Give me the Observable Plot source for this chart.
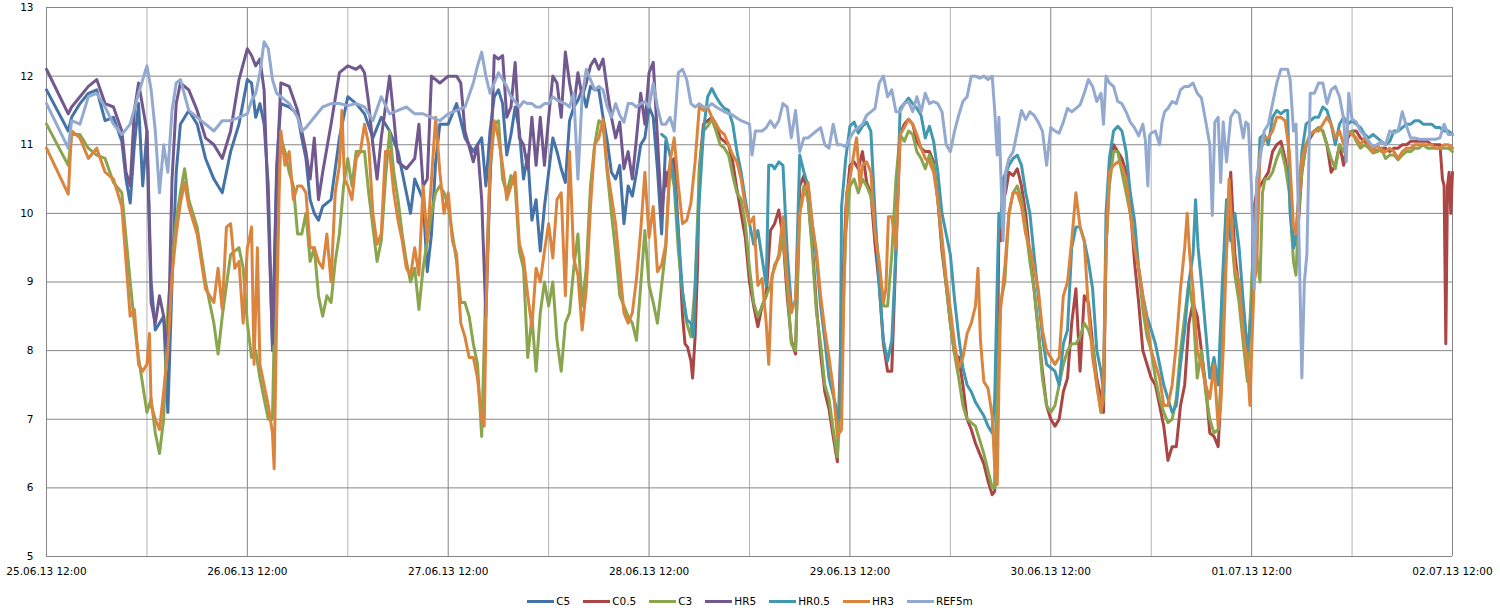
<!DOCTYPE html>
<html><head><meta charset="utf-8">
<script src="https://cdn.jsdelivr.net/npm/d3@7"></script>
<script src="https://cdn.jsdelivr.net/npm/@observablehq/plot@0.6"></script>
<style>
body{margin:0;background:#fff;font-family:"DejaVu Sans",sans-serif;}
#chart svg{display:block;}
#legend{display:flex;justify-content:center;align-items:center;height:14px;margin-top:9px;font-size:10.5px;color:#000;}
#legend .item{display:flex;align-items:center;margin:0 6.5px;}
#legend .sw{display:inline-block;width:27px;height:3px;margin-right:2px;}
</style></head><body>
<div id="chart"></div><div id="legend"></div>
<script>
// time in hours since 25.06.13 12:00
const xTickHours = [0,24,48,72,96,120,144,168];
const xTickLabels = ["25.06.13 12:00","26.06.13 12:00","27.06.13 12:00","28.06.13 12:00","29.06.13 12:00","30.06.13 12:00","01.07.13 12:00","02.07.13 12:00"];
const xMinorGrid = [12,36,60,84,108,132,156];
const yTicks = [5,6,7,8,9,10,11,12,13];
const seriesNames = ["C5","C0.5","C3","HR5","HR0.5","HR3","REF5m"];
const seriesColors = ["#4572A7","#AA4643","#89A54E","#71588F","#4198AF","#DB843D","#93A9CF"];

const C5 = [[0,11.8],[2.6,11.2],[3,11.4],[4,11.6],[5,11.75],[6,11.8],[7,11.35],[8,11.4],[9,11.05],[9.5,10.5],[10,10.15],[10.5,11.0],[11,11.6],[11.5,10.4],[12,11.2],[12.5,9.0],[13,8.3],[13.5,8.4],[14,8.5],[14.5,7.1],[15,9.0],[15.5,10.6],[16,11.3],[17,11.5],[18,11.3],[19,10.8],[20,10.5],[21,10.3],[22,10.9],[23,11.3],[24,11.95],[24.5,11.9],[25,11.4],[25.5,11.6],[26,11.3],[26.5,10.4],[27,8.0],[27.5,10.7],[28,11.6],[29,11.55],[30,11.45],[30.5,11.1],[31,10.8],[31.5,10.2],[32,10.0],[32.5,9.9],[33,10.1],[34,10.2],[35,11.1],[36,11.7],[37,11.6],[38,11.45],[39,11.1],[40,11.4],[41,11.2],[42,10.9],[43,10.3],[43.5,10.0],[44,10.5],[45,10.2],[45.5,9.15],[46,9.7],[46.5,10.75],[47,11.3],[48,11.3],[49,11.6],[50,11.1],[51,10.9],[52,11.1],[52.5,10.4],[53,11.2],[53.5,11.7],[54,11.8],[54.5,11.6],[55,10.85],[55.5,11.15],[56,11.55],[56.5,11.2],[57,10.5],[57.5,10.85],[58,9.9],[58.5,10.2],[59,9.45],[59.5,10.1],[60,10.6],[60.5,11.1],[61,10.9],[61.5,10.65],[62,10.45],[62.5,11.35],[63,11.55],[63.5,11.65],[64,11.8],[64.5,11.55],[65,11.85],[65.5,11.8],[66,11.8],[66.5,11.4],[67,11.05],[67.5,10.6],[68,10.5],[68.5,10.7],[69,9.85],[69.5,10.4],[70,10.25],[70.5,10.6],[71,11.0],[71.5,11.1],[72,11.55],[72.5,11.4],[73,10.65],[73.5,9.7],[74,11.05]];

const C05 = [[74,10.4],[74.5,10.7],[75,10.8],[75.5,9.75],[76,8.5],[76.3,8.1],[76.6,8.05],[77,7.85],[77.2,7.6],[77.5,8.2],[77.8,9.25],[78,10.65],[78.5,11.3],[79,11.35],[79.5,11.4],[80,11.3],[80.5,11.1],[81,11.05],[81.5,11.0],[82,10.75],[82.5,10.35],[83,10.0],[83.5,9.65],[84,9.0],[84.5,8.65],[85,8.35],[85.5,8.65],[86,8.8],[86.5,9.75],[87,9.85],[87.5,10.05],[88,9.65],[88.5,8.8],[89,8.15],[89.5,7.95],[90,10.4],[90.5,10.55],[91,10.2],[91.5,9.55],[92,8.65],[92.5,7.95],[93,7.4],[93.5,7.15],[94,6.75],[94.5,6.38],[95,8.5],[95.5,10.05],[96,10.7],[96.5,10.75],[97,10.65],[97.5,10.9],[98,10.45],[98.5,10.3],[99,9.55],[99.5,8.95],[100,8.1],[100.5,7.7],[101,7.7],[101.5,9.45],[102,11.15],[102.5,11.3],[103,11.37],[103.5,11.3],[104,11.05],[104.5,10.95],[105,10.9],[105.5,10.9],[106,10.75],[106.5,10.2],[107,9.45],[107.5,8.95],[108,8.4],[108.5,7.95],[109,7.9],[109.5,7.5],[110,7.0],[110.5,6.85],[111,6.65],[111.5,6.5],[112,6.35],[112.5,6.1],[113,5.9],[113.3,5.95],[113.6,7.5],[113.8,9.8],[114,9.6],[114.3,10.2],[114.6,10.3],[115,10.6],[115.5,10.55],[116,10.65],[116.5,10.4],[117,10.0],[117.5,9.4],[118,8.9],[118.5,8.3],[119,7.7],[119.5,7.2],[120,7.0],[120.5,6.9],[121,7.0],[121.5,7.4],[122,7.6],[122.5,8.4],[123,8.9],[123.5,7.7],[124,8.8],[124.5,8.7],[125,8.1],[125.5,7.6],[126,7.3],[126.3,7.1],[126.6,9.5],[127,10.6],[127.5,11.0],[128,10.9],[128.5,10.8],[129,10.6],[129.5,10.1],[130,9.3],[130.5,8.7],[131,8.0],[131.5,7.8],[132,7.6],[132.5,7.5],[133,7.2],[133.5,6.9],[134,6.4],[134.5,6.6],[135,6.6],[135.5,7.2],[136,7.5],[136.5,8.4],[137,8.7],[137.5,8.5],[138,8.0],[138.5,7.5],[139,6.8],[139.5,6.75],[140,6.6],[140.3,7.3],[140.6,8.8],[141,9.5],[141.5,10.6],[142,9.4],[142.5,8.9],[143,8.6],[143.5,7.9],[144,8.7],[144.3,10.1],[144.6,10.3],[145,10.4],[145.5,10.5],[146,10.6],[146.5,10.9],[147,11.0],[147.5,11.05],[148,10.8],[148.5,10.4],[149,9.5],[149.5,9.7],[150,10.6],[150.5,11.0],[151,11.1],[151.5,11.2],[152,11.25],[152.5,11.2],[153,11.0],[153.5,10.6],[154,10.7],[154.5,11.0],[155,10.7],[155.5,11.1],[156,11.2],[156.5,11.2],[157,11.1],[157.5,11.05],[158,11.0],[158.5,10.95],[159,10.9],[159.5,10.95],[160,10.95],[160.5,10.9],[161,10.95],[161.5,10.95],[162,11.0],[162.5,11.0],[163,11.05],[163.5,11.05],[164,11.05],[164.5,11.05],[165,11.05],[165.5,11.0],[166,11.0],[166.5,11.0],[166.8,10.5],[167,10.4],[167.2,8.1],[167.4,10.4],[167.6,10.6],[167.8,10.0],[168,10.6]];

const C3 = [[0,11.3],[2.6,10.7],[3,11.15],[4,11.15],[5,10.95],[6,10.85],[7,10.8],[8,10.45],[9,10.3],[10,9.0],[10.5,8.4],[11,7.9],[12,7.1],[12.5,7.3],[13,6.8],[13.5,6.5],[14,7.0],[14.5,8.6],[15,9.3],[15.5,9.9],[16,10.3],[16.5,10.65],[17,10.2],[18,9.8],[19,9.0],[20,8.4],[20.5,7.95],[21,8.5],[22,9.4],[23,9.5],[23.5,9.2],[24,8.4],[24.5,7.9],[25,8.0],[25.5,7.6],[26,7.3],[26.5,7.0],[27,7.0],[27.3,8.8],[27.5,9.8],[28,11.1],[28.5,10.9],[29,10.6],[29.5,10.4],[30,9.7],[30.5,9.7],[31,10.0],[31.5,9.3],[32,9.5],[32.5,8.8],[33,8.5],[33.5,8.8],[34,8.7],[34.5,9.3],[35,9.7],[35.5,10.4],[36,10.8],[36.5,10.4],[37,10.9],[38,10.9],[38.5,10.3],[39,9.8],[39.5,9.3],[40,9.6],[40.5,10.5],[41,11.2],[41.5,10.6],[42,10.2],[42.5,9.7],[43,9.3],[43.5,9.0],[44,9.2],[44.5,8.6],[45,9.2],[45.5,9.6],[46,10.0],[46.5,10.3],[47,10.4],[47.5,10.3],[48,10.1],[48.5,9.7],[49,9.3],[49.5,8.7],[50,8.7],[50.5,8.5],[51,8.1],[51.5,7.8],[52,6.75],[52.5,9.0],[53,10.6],[53.5,11.3],[54,11.35],[54.5,10.5],[55,10.3],[55.5,10.55],[56,10.4],[56.5,9.45],[57,9.2],[57.5,7.9],[58,8.5],[58.5,7.7],[59,8.55],[59.5,9.0],[60,8.65],[60.5,9.0],[61,8.15],[61.5,7.7],[62,8.4],[62.5,8.55],[63,9.2],[63.5,9.7],[64,8.65],[64.5,9.2],[65,10.4],[65.5,11.0],[66,11.35],[66.5,11.3],[67,10.6],[67.5,10.0],[68,9.45],[68.5,8.8],[69,8.65],[69.5,8.5],[70,8.4],[70.5,8.15],[71,8.95],[71.5,9.75],[72,8.95],[72.5,8.7],[73,8.4],[73.5,8.95],[74,9.5],[74.5,10.7],[75,10.4],[75.5,9.45],[76,8.85],[76.5,8.4],[77,8.2],[77.5,8.95],[78,10.6],[78.5,11.2],[79,11.27],[79.5,11.37],[80,11.2],[80.5,11.0],[81,10.95],[81.5,10.85],[82,10.55],[82.5,10.3],[83,10.2],[83.5,9.85],[84,9.2],[84.5,8.7],[85,8.5],[85.5,8.65],[86,8.8],[86.5,8.95],[87,9.25],[87.5,9.35],[88,9.65],[88.5,8.95],[89,8.1],[89.5,8.0],[90,10.0],[90.5,10.4],[91,10.2],[91.5,9.45],[92,8.55],[92.5,8.1],[93,7.5],[93.5,7.3],[94,6.85],[94.5,6.45],[95,7.9],[95.5,9.7],[96,10.4],[96.5,10.5],[97,10.3],[97.5,10.5],[98,10.4],[98.5,10.25],[99,9.85],[99.5,9.2],[100,8.65],[100.5,8.65],[101,9.4],[101.5,10.5],[102,11.15],[102.5,11.05],[103,11.2],[103.5,11.15],[104,10.9],[104.5,10.8],[105,10.65],[105.5,10.85],[106,10.7],[106.5,10.2],[107,9.55],[107.5,8.95],[108,8.4],[108.5,7.95],[109,7.6],[109.5,7.2],[110,7.0],[110.5,6.95],[111,6.9],[111.5,6.7],[112,6.5],[112.5,6.25],[113,6.0],[113.3,6.0],[113.6,7.5],[114,8.7],[114.5,9.0],[115,10.0],[115.5,10.3],[116,10.4],[116.5,10.2],[117,9.8],[117.5,9.3],[118,8.9],[118.5,8.3],[119,7.6],[119.5,7.2],[120,7.1],[120.5,7.2],[121,7.5],[121.5,7.8],[122,8.0],[122.5,8.1],[123,8.1],[123.5,8.2],[124,8.4],[124.5,8.3],[125,8.1],[125.5,7.5],[126,7.1],[126.3,7.3],[126.6,9.5],[127,10.4],[127.5,10.9],[128,10.9],[128.5,10.6],[129,10.3],[129.5,10.0],[130,9.6],[130.5,9.2],[131,8.6],[131.5,8.2],[132,8.0],[132.5,7.6],[133,7.3],[133.5,7.1],[134,6.95],[134.5,7.0],[135,7.3],[135.5,8.0],[136,8.5],[136.5,9.0],[137,8.6],[137.5,7.6],[138,8.0],[138.5,7.4],[139,7.0],[139.5,6.8],[140,6.85],[140.3,7.5],[140.6,9.0],[141,10.1],[141.5,9.8],[142,9.1],[142.5,8.7],[143,8.1],[143.5,7.55],[144,9.0],[144.3,9.7],[144.6,9.4],[145,9.0],[145.3,10.3],[145.6,10.5],[146,10.5],[146.5,10.6],[147,10.8],[147.5,10.95],[148,10.7],[148.5,10.3],[149,9.3],[149.3,9.1],[149.6,10.0],[150,10.6],[150.5,11.0],[151,11.15],[151.5,11.2],[152,11.25],[152.5,11.2],[153,11.0],[153.5,10.8],[154,10.65],[154.5,11.0],[155,10.9],[155.5,11.15],[156,11.2],[156.5,11.05],[157,10.95],[157.5,11.0],[158,10.95],[158.5,10.88],[159,10.9],[159.5,10.95],[160,10.8],[160.5,10.85],[161,10.85],[161.5,10.78],[162,10.85],[162.5,10.9],[163,10.9],[163.5,10.95],[164,10.95],[164.5,11.0],[165,10.95],[165.5,10.95],[166,10.95],[166.5,10.95],[167,10.95],[167.5,10.95],[168,10.9]];

const HR5 = [[0,12.1],[2.6,11.45],[3,11.55],[4,11.7],[5,11.85],[6,11.95],[7,11.6],[8,11.55],[9,11.2],[9.5,10.6],[10,10.4],[10.5,11.5],[11,11.9],[12,11.2],[12.5,8.7],[13,8.4],[13.5,8.8],[14,8.5],[14.5,7.9],[15,10.5],[15.5,11.6],[16,11.9],[17,11.8],[18,11.5],[19,11.1],[20,11.0],[21,10.8],[22,11.2],[23,11.95],[24,12.4],[24.5,12.3],[25,12.15],[25.5,12.25],[26,11.8],[26.5,10.0],[27,8.1],[27.5,10.5],[28,11.9],[29,11.85],[30,11.5],[30.5,11.2],[31,10.9],[31.5,10.5],[32,11.1],[32.5,10.2],[33,10.6],[34,11.3],[35,12.05],[36,12.15],[37,12.1],[37.5,12.15],[38,12.05],[38.5,11.6],[39,11.0],[39.5,10.5],[40,11.1],[41,12.0],[41.5,11.4],[42,10.75],[43,10.65],[44,10.8],[44.5,11.3],[45,10.4],[45.5,10.5],[46,12.0],[47,11.9],[48,12.0],[49,12.0],[49.5,11.9],[50,11.2],[51,10.75],[51.5,11.0],[52,10.2],[52.5,8.5],[53,10.5],[53.5,12.3],[54,12.25],[54.5,12.3],[55,11.4],[55.5,11.55],[56,12.2],[56.5,11.1],[57,11.0],[57.5,10.65],[58,11.4],[58.5,10.7],[59,11.4],[59.5,10.7],[60,11.4],[60.5,12.0],[61,11.9],[61.5,11.4],[62,12.35],[62.5,11.9],[63,11.55],[63.5,12.05],[64,11.7],[64.5,11.9],[65,12.15],[65.5,12.25],[66,12.1],[66.5,12.25],[67,11.8],[67.5,11.4],[68,11.1],[68.5,11.33],[69,10.65],[69.5,10.9],[70,10.5],[70.5,11.1],[71,11.75],[71.5,11.3],[72,12.05],[72.5,12.2],[73,11.1],[73.5,10.0],[74,10.6]];

const HR05 = [[73.5,11.15],[74,11.1],[74.5,10.85],[75,10.5],[75.5,9.7],[76,8.85],[76.5,8.45],[77,8.4],[77.3,8.2],[77.6,9.2],[78,10.2],[78.5,11.2],[79,11.7],[79.5,11.82],[80,11.7],[80.5,11.6],[81,11.53],[81.5,11.5],[82,11.3],[82.5,10.9],[83,10.6],[83.5,10.2],[84,9.85],[84.5,9.55],[85,9.75],[85.5,9.35],[86,8.95],[86.3,10.7],[86.7,10.7],[87,10.65],[87.5,10.75],[88,10.7],[88.5,9.45],[89,8.65],[89.5,8.7],[90,10.85],[90.5,10.6],[91,10.4],[91.5,9.85],[92,9.35],[92.5,8.65],[93,8.15],[93.5,7.6],[94,7.35],[94.5,7.1],[94.8,7.0],[95,10.1],[95.5,10.8],[96,11.27],[96.5,11.33],[97,11.17],[97.5,11.27],[98,11.33],[98.5,11.2],[99,10.0],[99.5,8.95],[100,8.15],[100.5,7.85],[101,8.15],[101.5,9.45],[102,11.53],[102.5,11.6],[103,11.68],[103.5,11.6],[104,11.53],[104.5,11.43],[105,11.1],[105.5,11.27],[106,11.05],[106.5,10.6],[107,10.0],[107.5,9.7],[108,9.4],[108.5,8.75],[109,8.2],[109.5,7.75],[110,7.5],[110.5,7.4],[111,7.25],[111.5,7.15],[112,7.05],[112.5,6.9],[113,6.8],[113.3,7.3],[113.6,9.0],[113.8,10.0],[114,9.8],[114.3,10.5],[115,10.7],[115.5,10.8],[116,10.85],[116.5,10.7],[117,10.3],[117.5,10.0],[118,9.4],[118.5,8.8],[119,8.2],[119.5,7.8],[120,7.75],[120.5,7.7],[121,7.5],[121.5,8.1],[122,8.3],[122.5,9.5],[123,9.8],[123.5,9.8],[124,9.6],[124.5,9.3],[125,8.9],[125.5,8.0],[126,7.7],[126.3,7.4],[126.6,10.0],[127,10.8],[127.5,11.2],[128,11.27],[128.5,11.2],[129,10.9],[129.5,10.3],[130,9.9],[130.5,9.2],[131,8.8],[131.5,8.5],[132,8.3],[132.5,8.1],[133,7.8],[133.5,7.5],[134,7.3],[134.5,7.1],[135,7.2],[135.5,7.8],[136,8.3],[136.5,9.0],[137,9.4],[137.3,10.2],[137.6,9.5],[138,9.0],[138.5,8.3],[139,7.6],[139.5,7.9],[140,7.5],[140.5,9.0],[141,10.2],[141.5,9.6],[142,10.0],[142.5,9.5],[143,8.7],[143.5,8.0],[144,8.5],[144.5,9.8],[145,11.1],[145.5,11.15],[146,11.0],[146.5,11.4],[147,11.5],[147.5,11.45],[148,11.5],[148.3,11.5],[148.6,10.0],[149,9.5],[149.3,9.7],[149.6,10.2],[150,10.9],[150.5,11.3],[151,11.35],[151.5,11.4],[152,11.4],[152.5,11.55],[153,11.5],[153.5,11.3],[154,11.0],[154.5,11.3],[155,11.4],[155.5,11.3],[156,11.35],[156.5,11.3],[157,11.25],[157.5,11.15],[158,11.1],[158.5,11.15],[159,11.1],[159.5,11.05],[160,11.0],[160.5,11.05],[161,11.2],[161.5,11.2],[162,11.25],[162.5,11.3],[163,11.3],[163.5,11.35],[164,11.35],[164.5,11.3],[165,11.3],[165.5,11.3],[166,11.25],[166.5,11.25],[167,11.2],[167.5,11.2],[168,11.15]];

const HR3 = [[0,10.95],[2.6,10.28],[3,11.2],[4,11.1],[5,10.8],[6,10.95],[7,10.6],[8,10.5],[9,10.1],[10,8.5],[10.5,8.6],[11,7.8],[11.5,7.7],[12,7.8],[12.3,8.25],[12.5,7.2],[13,7.0],[13.5,6.85],[14,7.4],[14.5,8.0],[15,9.1],[15.5,9.7],[16,10.15],[16.5,10.45],[17,10.1],[18,9.7],[19,8.9],[20,8.7],[20.5,9.2],[21,8.6],[21.5,9.8],[22,9.85],[22.5,9.2],[23,9.3],[23.5,8.4],[24,9.5],[24.2,9.6],[24.5,9.8],[24.8,7.8],[25.2,9.5],[25.5,7.8],[26,7.5],[26.5,7.2],[27,6.8],[27.2,6.28],[27.5,8.5],[27.8,10.3],[28,11.2],[28.5,10.7],[29,10.9],[29.5,10.2],[30,10.4],[30.5,10.4],[31,10.3],[31.5,9.5],[32,9.5],[32.5,9.3],[33,9.2],[33.5,9.7],[34,9.0],[34.5,10.3],[35,10.7],[35.3,11.5],[35.6,10.5],[36,10.4],[36.5,10.2],[37,10.8],[37.5,10.9],[38,11.3],[38.5,11.0],[39,10.0],[39.5,9.55],[40,9.7],[40.5,10.9],[41,10.9],[41.5,10.3],[42,9.9],[42.5,9.6],[43,9.2],[43.5,9.1],[44,9.5],[44.5,9.1],[45,10.4],[45.5,9.6],[46,10.5],[46.5,11.4],[47,10.6],[47.5,10.0],[48,10.3],[48.5,9.6],[49,9.4],[49.5,8.4],[50,8.2],[50.5,7.9],[51,7.9],[51.5,7.6],[52,7.0],[52.3,6.9],[52.6,9.0],[53,10.7],[53.5,11.35],[54,11.1],[54.5,10.7],[55,10.2],[55.5,10.4],[56,10.6],[56.5,9.55],[57,9.35],[57.5,8.8],[58,8.35],[58.5,9.2],[59,9.0],[59.5,9.45],[60,9.85],[60.5,9.35],[61,10.2],[61.5,10.3],[62,8.8],[62.5,10.9],[63,9.35],[63.5,9.1],[64,8.3],[64.5,8.9],[65,10.1],[65.5,11.0],[66,11.1],[66.5,11.37],[67,10.65],[67.5,10.25],[68,9.85],[68.5,9.2],[69,8.55],[69.5,8.4],[70,8.55],[70.5,9.05],[71,9.75],[71.5,10.6],[72,9.65],[72.5,10.1],[73,9.15],[73.5,9.25],[74,9.55],[74.5,10.75],[75,11.1],[75.5,10.4],[76,9.85],[76.5,9.9],[77,10.15],[77.5,10.75],[78,11.55],[78.5,11.5],[79,11.55],[79.5,11.4],[80,11.3],[80.5,11.2],[81,11.15],[81.5,11.0],[82,10.85],[82.5,10.75],[83,10.5],[83.5,10.1],[84,9.85],[84.5,9.95],[85,8.95],[85.5,9.05],[86,8.4],[86.3,7.8],[86.7,9.1],[87,9.2],[87.5,9.4],[88,9.95],[88.5,9.05],[89,8.55],[89.5,8.75],[90,10.0],[90.5,10.3],[91,10.45],[91.5,9.85],[92,9.45],[92.5,8.8],[93,8.3],[93.5,7.9],[94,7.45],[94.5,6.75],[95,6.85],[95.3,9.0],[95.6,10.3],[96,10.5],[96.5,10.9],[96.8,11.1],[97.2,10.4],[97.5,10.7],[98,10.75],[98.5,10.6],[99,9.7],[99.5,9.3],[100,8.7],[100.3,8.9],[100.6,9.95],[101,9.95],[101.5,9.5],[102,11.15],[102.5,11.25],[103,11.37],[103.5,11.3],[104,11.15],[104.5,10.95],[105,10.8],[105.5,10.75],[106,10.6],[106.5,10.2],[107,9.65],[107.5,9.05],[108,8.6],[108.5,8.1],[109,7.75],[109.5,7.9],[110,8.25],[110.5,8.4],[111,8.65],[111.3,9.2],[111.6,8.15],[112,7.55],[112.5,7.45],[113,7.05],[113.3,6.3],[113.6,6.05],[113.8,7.5],[114,8.6],[114.5,9.2],[115,10.0],[115.5,10.3],[116,10.3],[116.5,10.1],[117,9.7],[117.5,9.5],[118,9.2],[118.5,8.9],[119,8.3],[119.5,8.0],[120,7.9],[120.5,7.8],[121,7.9],[121.5,8.8],[122,9.0],[122.5,9.6],[123,10.3],[123.5,9.8],[124,9.6],[124.5,8.6],[125,7.9],[125.5,7.5],[126,7.1],[126.3,7.6],[126.6,9.5],[127,10.6],[127.5,10.7],[128,10.75],[128.5,10.7],[129,10.5],[129.5,10.0],[130,9.5],[130.5,9.2],[131,8.8],[131.5,8.4],[132,8.0],[132.5,7.8],[133,7.6],[133.5,7.2],[134,7.2],[134.5,7.5],[135,8.1],[135.5,8.9],[136,9.5],[136.3,10.0],[136.6,9.4],[137,8.9],[137.5,8.0],[138,7.8],[138.5,7.5],[139,7.3],[139.5,7.8],[140,6.9],[140.3,7.2],[140.6,8.0],[141,9.45],[141.3,10.5],[141.6,9.9],[142,9.2],[142.5,9.0],[143,8.25],[143.5,7.8],[143.8,7.2],[144,8.0],[144.3,9.0],[144.6,9.2],[145,10.9],[145.3,11.0],[145.6,11.1],[146,11.1],[146.5,11.2],[147,11.4],[147.5,11.4],[148,11.35],[148.5,10.9],[149,9.8],[149.3,9.7],[149.6,10.2],[150,10.8],[150.5,11.0],[151,11.15],[151.5,11.2],[152,11.2],[152.5,11.3],[153,11.4],[153.5,11.3],[154,11.1],[154.5,11.2],[155,11.0],[155.5,11.2],[156,11.15],[156.5,11.1],[157,11.0],[157.5,11.1],[158,11.0],[158.5,10.9],[159,11.0],[159.5,10.9],[160,10.9],[160.5,10.95],[161,10.9],[161.5,10.8],[162,10.9],[162.5,10.95],[163,10.95],[163.5,11.0],[164,11.0],[164.5,11.0],[165,11.0],[165.5,11.0],[166,10.95],[166.5,10.95],[167,11.0],[167.5,11.0],[168,10.95]];

const REF5m = [[0,11.6],[2.6,10.95],[3,11.35],[4,11.3],[5,11.7],[6,11.75],[7,11.55],[8,11.3],[9,11.15],[10,11.3],[11,11.75],[12,12.15],[12.5,11.8],[13,11.2],[13.5,10.3],[14,11.0],[14.5,10.6],[15,11.5],[15.5,11.9],[16,11.95],[17,11.5],[18,11.4],[19,11.3],[20,11.2],[21,11.35],[22,11.35],[23,11.4],[24,11.45],[24.5,11.64],[25,11.75],[25.5,12.05],[26,12.5],[26.5,12.4],[27,11.95],[27.5,11.75],[28,11.7],[29,11.6],[30,11.4],[30.5,11.2],[31,11.25],[32,11.4],[33,11.55],[34,11.6],[35,11.6],[36,11.57],[37,11.6],[38,11.55],[39,11.35],[40,11.7],[41,11.45],[42,11.5],[43,11.55],[44,11.45],[45,11.45],[46,11.4],[47,11.35],[48,11.45],[49,11.5],[50,11.55],[51,11.9],[51.5,12.15],[52,12.35],[52.5,12.0],[53,11.75],[53.5,11.9],[54,12.05],[54.5,11.95],[55,11.85],[55.5,11.7],[56,11.63],[56.5,11.55],[57,11.63],[57.5,11.6],[58,11.6],[58.5,11.55],[59,11.55],[59.5,11.6],[60,11.6],[60.5,11.7],[61,11.65],[61.5,11.62],[62,11.6],[62.5,11.55],[63,11.75],[63.5,10.5],[64,11.7],[64.5,12.1],[65,11.95],[65.5,11.8],[66,11.85],[66.5,11.8],[67,11.55],[67.5,11.4],[68,11.6],[68.5,11.43],[69,11.33],[69.5,11.6],[70,11.6],[70.5,11.55],[71,11.6],[71.5,11.63],[72,11.55],[72.5,11.9],[73,11.55],[73.5,11.3],[74,11.3],[74.5,11.4],[75,11.2],[75.5,12.05],[76,12.1],[76.5,11.95],[77,11.6],[77.5,11.55],[78,11.6],[78.5,11.55],[79,11.55],[79.5,11.6],[80,11.55],[81,11.48],[82,11.43],[83,11.35],[84,11.3],[84.3,10.85],[84.7,11.2],[85,11.2],[85.5,11.2],[86,11.25],[86.5,11.35],[87,11.25],[87.5,11.35],[88,11.6],[88.5,11.55],[89,11.1],[89.5,11.5],[90,10.9],[90.5,11.1],[91,11.1],[91.5,11.15],[92,11.2],[92.5,11.25],[93,11.0],[93.5,10.95],[94,11.3],[94.5,11.0],[95,11.0],[95.5,10.97],[96,11.1],[96.5,11.2],[97,11.25],[97.5,11.3],[98,11.43],[98.5,11.48],[99,11.53],[99.5,11.9],[100,12.0],[100.5,11.7],[101,11.8],[101.5,11.48],[102,11.48],[102.5,11.6],[103,11.63],[103.5,11.48],[104,11.7],[104.5,11.48],[105,11.75],[105.5,11.6],[106,11.63],[106.5,11.6],[107,11.48],[107.5,11.0],[108,10.9],[108.5,11.2],[109,11.43],[109.5,11.63],[110,11.7],[110.5,12.0],[111,12.0],[111.5,11.97],[112,12.0],[112.5,11.95],[113,12.0],[113.3,11.5],[113.6,10.85],[113.8,11.4],[114,10.7],[114.3,9.6],[114.6,10.6],[115,10.8],[115.5,10.9],[116,11.2],[116.5,11.5],[117,11.37],[117.5,11.48],[118,11.43],[118.5,11.33],[119,11.2],[119.5,10.7],[120,11.25],[120.5,11.2],[121,11.17],[121.5,11.33],[122,11.53],[122.5,11.48],[123,11.53],[123.5,11.58],[124,11.75],[124.5,11.95],[125,11.85],[125.5,11.63],[126,11.75],[126.3,11.3],[126.6,12.0],[127,11.9],[127.5,11.85],[128,11.63],[128.5,11.6],[129,11.48],[129.5,11.33],[130,11.25],[130.5,11.13],[131,11.3],[131.3,11.07],[131.6,10.4],[131.8,11.13],[132,11.17],[132.5,11.2],[133,11.0],[133.3,11.33],[133.6,11.48],[134,11.53],[134.5,11.63],[135,11.6],[135.5,11.8],[136,11.85],[136.5,11.85],[137,11.9],[137.5,11.75],[138,11.68],[138.5,11.35],[139,11.0],[139.3,9.97],[139.6,11.33],[140,11.4],[140.3,10.45],[140.6,11.33],[141,10.75],[141.5,11.4],[142,11.5],[142.5,11.45],[143,11.1],[143.3,11.33],[143.6,11.3],[144,10.33],[144.3,8.9],[144.6,10.5],[145,10.8],[145.5,11.2],[146,11.3],[146.5,11.6],[147,11.9],[147.5,12.1],[148,12.1],[148.3,12.1],[148.6,11.95],[149,11.2],[149.3,11.3],[149.6,9.97],[150,7.6],[150.3,9.0],[150.6,9.4],[151,11.75],[151.5,11.75],[152,11.9],[152.5,11.9],[153,11.6],[153.5,11.8],[154,11.85],[154.5,11.7],[155,11.37],[155.3,10.75],[155.6,11.75],[156,11.37],[156.5,11.33],[157,11.2],[157.5,11.13],[158,11.05],[158.5,10.97],[159,11.0],[159.5,11.05],[160,11.0],[160.5,11.2],[161,11.17],[161.5,11.2],[162,11.48],[162.5,11.27],[163,11.1],[163.5,11.1],[164,11.08],[164.5,11.08],[165,11.08],[165.5,11.08],[166,11.08],[166.5,11.1],[167,11.3],[167.5,11.15],[168,11.15]];

const seriesData = [C5, C05, C3, HR5, HR05, HR3, REF5m];
const table = [];
seriesData.forEach((arr, i) => arr.forEach(([t, v]) => table.push({series: seriesNames[i], t, v})));

const chart = Plot.plot({
  width: 1500, height: 585,
  marginLeft: 46, marginRight: 48, marginTop: 7, marginBottom: 29,
  style: {fontFamily: "DejaVu Sans, sans-serif", fontSize: "10.5px", color: "#000", background: "#fff"},
  x: {domain: [0, 168]},
  y: {domain: [5, 13]},
  color: {domain: seriesNames, range: seriesColors},
  marks: [
    Plot.ruleX(xMinorGrid, {stroke: "#b4b4b4", strokeWidth: 1}),
    Plot.ruleY(yTicks, {stroke: "#868686", strokeWidth: 1}),
    Plot.ruleX(xTickHours, {stroke: "#868686", strokeWidth: 1}),
    Plot.lineY(table, {x: "t", y: "v", z: "series", stroke: "series", strokeWidth: 3, strokeLinejoin: "round"}),
    Plot.axisX({ticks: xTickHours, tickFormat: (d) => xTickLabels[xTickHours.indexOf(d)], tickSize: 0, tickPadding: 11, label: null, fill: "#000"}),
    Plot.axisY({ticks: yTicks, tickSize: 0, tickPadding: 13, label: null, fill: "#000"})
  ]
});
document.getElementById("chart").appendChild(chart);

const legend = document.getElementById("legend");
seriesNames.forEach((n, i) => {
  const it = document.createElement("div");
  it.className = "item";
  const sw = document.createElement("span");
  sw.className = "sw";
  sw.style.background = seriesColors[i];
  const tx = document.createElement("span");
  tx.textContent = n;
  it.appendChild(sw); it.appendChild(tx);
  legend.appendChild(it);
});
</script>
</body></html>
